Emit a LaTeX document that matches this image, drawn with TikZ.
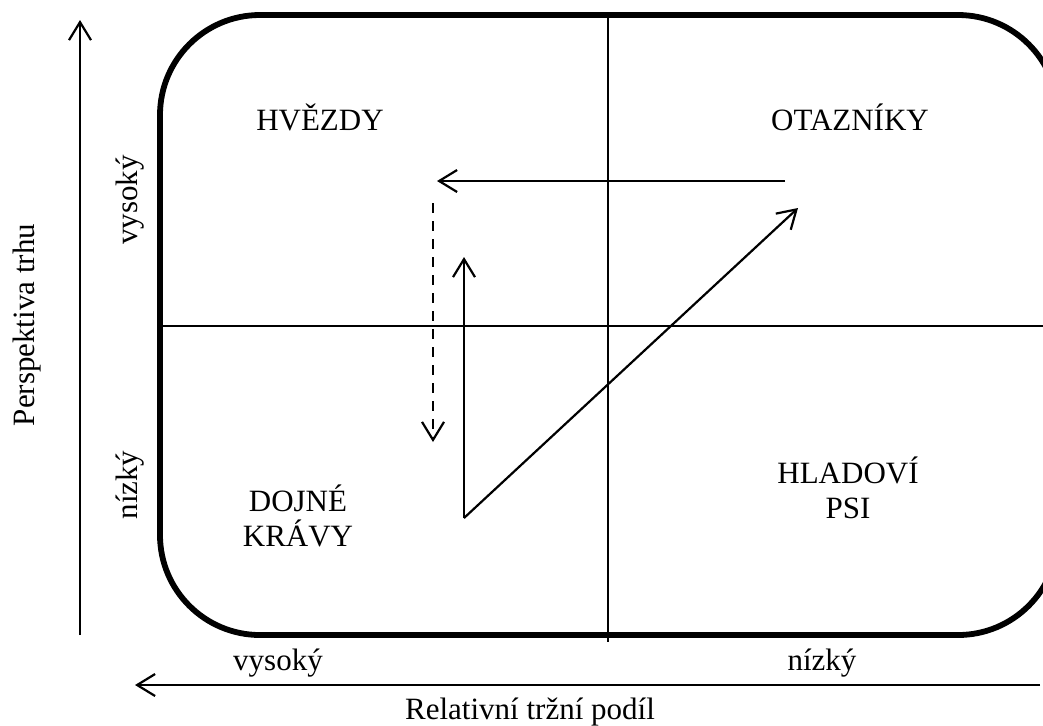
\documentclass[tikz,border=0pt]{standalone}
\usepackage{fontspec}
\setmainfont{Liberation Serif}
\usetikzlibrary{arrows.meta}

\tikzset{
  txt/.style={font=\fontsize{15.5}{17.5}\selectfont, inner sep=0pt, align=center},
  axis/.style={line width=1.1pt, -{Straight Barb[length=9pt,width=11pt,line width=1.1pt]}},
  move/.style={line width=1.1pt, -{Straight Barb[length=9pt,width=11pt,line width=1.1pt]}},
}

\begin{document}
\begin{tikzpicture}[x=0.5pt, y=-0.5pt]
  \useasboundingbox (0,0) rectangle (1043,725);
  % Frame of the matrix
  \draw[line width=2.9pt, rounded corners=50pt] (160,15) rectangle (1058,635);
  % Quadrant dividers
  \draw[line width=1pt] (608,15) -- (608,642);
  \draw[line width=1pt] (160,326) -- (1043,326);
  % Axes
  \coordinate (ybot) at (80,635);
  \coordinate (ytop) at (80,20);
  \coordinate (xright) at (1040,685);
  \coordinate (xleft) at (135,685);
  \draw[axis] (ybot) -- (ytop);
  \draw[axis] (xright) -- (xleft);
  % Axis labels
  \node[txt, rotate=90] (ytitle) at (27,325) {Perspektiva trhu};
  \node[txt, rotate=90] (yhigh) at (130,200) {vysoký};
  \node[txt, rotate=90] (ylow) at (130,485) {nízký};
  \node[txt] (xhigh) at (278,663) {vysoký};
  \node[txt] (xlow) at (822,663) {nízký};
  \node[txt] (xtitle) at (530,712) {Relativní tržní podíl};
  % Quadrants
  \node[txt] (stars) at (320,117) {HVĚZDY};
  \node[txt] (quest) at (850,117) {OTAZNÍKY};
  \node[txt] (cows) at (298,516) {DOJNÉ\\KRÁVY};
  \node[txt] (dogs) at (848,488) {HLADOVÍ\\PSI};
  % Movements between quadrants
  \coordinate (start) at (464,518);
  \coordinate (up) at (464,257);
  \coordinate (diag) at (798,208);
  \coordinate (qleft) at (785,181);
  \coordinate (sright) at (437,181);
  \coordinate (dtop) at (433,203);
  \coordinate (dbot) at (433,442);
  \draw[move] (start) -- (up);
  \draw[move] (start) -- (diag);
  \draw[move] (qleft) -- (sright);
  \draw[move, dash pattern=on 5pt off 4pt] (dtop) -- (dbot);
\end{tikzpicture}
\end{document}
